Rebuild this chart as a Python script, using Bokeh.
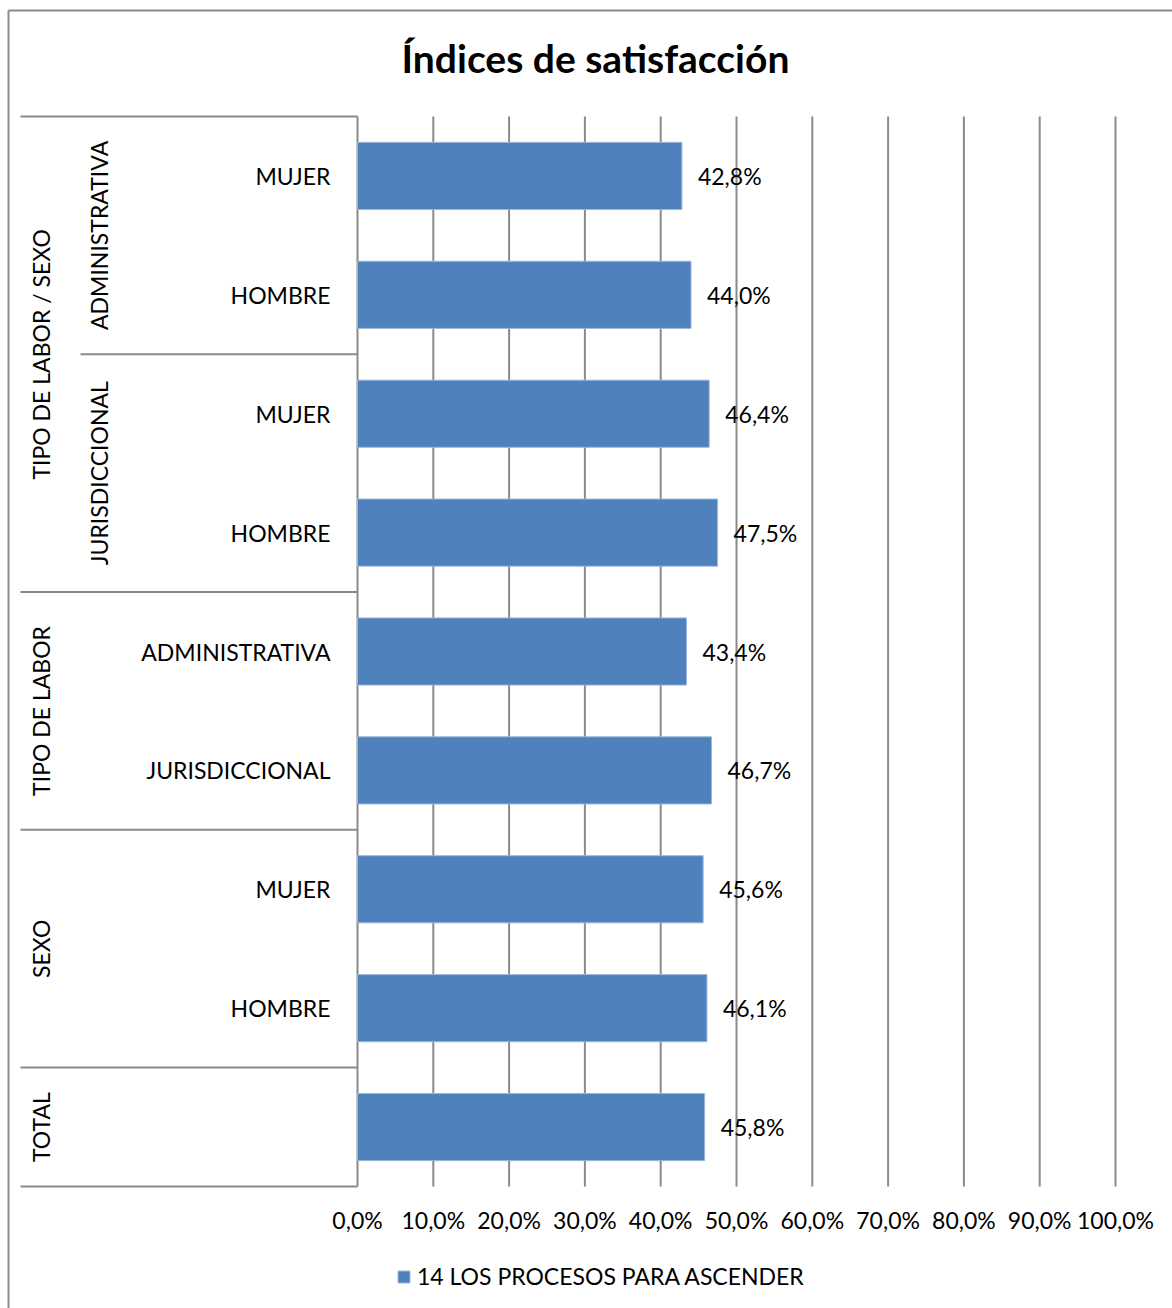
from math import pi
from bokeh.plotting import figure
from bokeh.models import Range1d, Legend, LegendItem
from bokeh.core.properties import value
from bokeh.embed import file_html
from bokeh.resources import INLINE

# ---------------- data ----------------
title_text = "Índices de satisfacción"
series_name = "14 LOS PROCESOS PARA ASCENDER"
row_labels = ["MUJER", "HOMBRE", "MUJER", "HOMBRE",
              "ADMINISTRATIVA", "JURISDICCIONAL", "MUJER", "HOMBRE", ""]
values = [42.8, 44.0, 46.4, 47.5, 43.4, 46.7, 45.6, 46.1, 45.8]
sub_groups = ["ADMINISTRATIVA", "JURISDICCIONAL"]
sub_group_rows = [(0, 1), (2, 3)]
top_groups = ["TIPO DE LABOR / SEXO", "TIPO DE LABOR", "SEXO", "TOTAL"]
top_group_rows = [(0, 3), (4, 5), (6, 7), (8, 8)]
x_ticks = [0, 10, 20, 30, 40, 50, 60, 70, 80, 90, 100]
x_tick_labels = ["0,0%", "10,0%", "20,0%", "30,0%", "40,0%", "50,0%",
                 "60,0%", "70,0%", "80,0%", "90,0%", "100,0%"]

# ---------------- layout (pixels) ----------------
W, H = 1172, 1308
X0_PX, X100_PX = 357, 1115
TOP_PX, BOT_PX = 116, 1186
n = len(values)
pxu = (X100_PX - X0_PX) / 100.0
rowh = (BOT_PX - TOP_PX) / n


def xd(px):
    return (px - X0_PX) / pxu


def yd(py):
    return -0.5 + (py - TOP_PX) / rowh


FONT = "Lato"
FS = "23px"
GRID = "#8a8a8a"
BAR = "#4F81BD"

p = figure(width=W, height=H,
           x_range=Range1d(xd(0), xd(W)),
           y_range=Range1d(yd(H), yd(0)),
           output_backend="svg", toolbar_location=None,
           x_axis_location=None, y_axis_location=None,
           min_border=0, outline_line_color=None,
           background_fill_color="white", border_fill_color="white")
p.xgrid.visible = False
p.ygrid.visible = False

rows = list(range(n))
top_edge = -0.5
bot_edge = n - 0.5

# outer chart border (left and top)
p.segment(x0=[xd(8), xd(8)], y0=[yd(10), yd(10)],
          x1=[xd(8), xd(W)], y1=[yd(H), yd(10)],
          line_color="#8a8a8a", line_width=2)

# vertical gridlines + axis line
p.segment(x0=x_ticks, y0=[top_edge] * len(x_ticks),
          x1=x_ticks, y1=[bot_edge] * len(x_ticks),
          line_color=GRID, line_width=2)

# category table lines
hy = [top_group_rows[0][0] - 0.5] + [b + 0.5 for (_, b) in top_group_rows]
p.segment(x0=[xd(20)] * len(hy), y0=hy, x1=[0] * len(hy), y1=hy,
          line_color=GRID, line_width=2)
sy = [b + 0.5 for (_, b) in sub_group_rows[:-1]]
p.segment(x0=[xd(80)] * len(sy), y0=sy, x1=[0] * len(sy), y1=sy,
          line_color=GRID, line_width=2)

# bars
bars = p.hbar(y=rows, left=0, right=values, height=0.565,
              fill_color=BAR, line_color="#9db8dc", line_width=1)

# data labels
p.text(x=values, y=rows,
       text=[("%.1f" % v).replace(".", ",") + "%" for v in values],
       x_offset=16, text_align="left", text_baseline="middle",
       text_font=value(FONT), text_font_size=FS, text_color="black")

# category labels (innermost level)
p.text(x=[0] * n, y=rows, text=row_labels, x_offset=-27,
       text_align="right", text_baseline="middle",
       text_font=value(FONT), text_font_size=FS, text_color="black")

# sub group labels (rotated)
p.text(x=[xd(98)] * len(sub_groups),
       y=[(a + b) / 2 for (a, b) in sub_group_rows], text=sub_groups,
       angle=pi / 2, text_align="center", text_baseline="middle",
       text_font=value(FONT), text_font_size=FS, text_color="black")

# top group labels (rotated)
p.text(x=[xd(40)] * len(top_groups),
       y=[(a + b) / 2 for (a, b) in top_group_rows], text=top_groups,
       angle=pi / 2, text_align="center", text_baseline="middle",
       text_font=value(FONT), text_font_size=FS, text_color="black")

# x tick labels
p.text(x=x_ticks, y=[yd(1219)] * len(x_ticks), text=x_tick_labels,
       text_align="center", text_baseline="middle",
       text_font=value(FONT), text_font_size=FS, text_color="black")

# title
p.text(x=[xd(595)], y=[yd(57)], text=[title_text],
       text_align="center", text_baseline="middle",
       text_font=value(FONT), text_font_size="39px",
       text_font_style="bold", text_color="black")

legend = Legend(items=[LegendItem(label=series_name, renderers=[bars])],
                location=(396, 18), orientation="horizontal",
                border_line_color=None, background_fill_alpha=0,
                padding=0, margin=0, glyph_width=15, glyph_height=15,
                label_standoff=6, label_text_font=FONT,
                label_text_font_size=FS, label_text_color="black")
p.add_layout(legend)

open("out.html", "w").write(file_html(p, INLINE))
